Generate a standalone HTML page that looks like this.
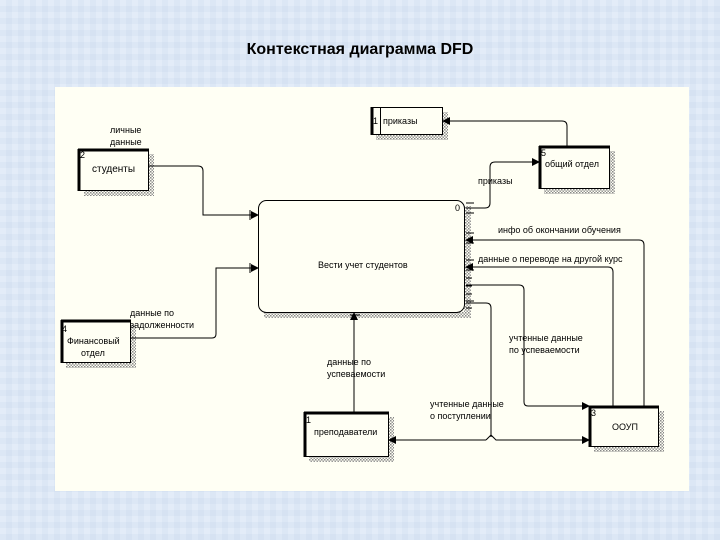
<!DOCTYPE html>
<html><head><meta charset="utf-8"><style>
body{margin:0;width:720px;height:540px;overflow:hidden;background:#dfe9f6;}
svg{display:block}
text{font-family:"Liberation Sans","DejaVu Sans",sans-serif;font-size:9px;fill:#000}
</style></head><body>
<svg width="720" height="540" viewBox="0 0 720 540" xmlns="http://www.w3.org/2000/svg">
<defs>
<pattern id="bg" width="12" height="12" patternUnits="userSpaceOnUse">
<rect width="12" height="12" fill="#dce7f5"/><rect x="0" y="0" width="6" height="6" fill="#e3ecf8"/><rect x="6" y="6" width="6" height="6" fill="#d6e2f2"/>
</pattern>
<pattern id="sh" width="3" height="3" patternUnits="userSpaceOnUse">
<rect width="3" height="3" fill="#fffff4"/><rect width="1.5" height="1.5" fill="#888"/><rect x="1.5" y="1.5" width="1.5" height="1.5" fill="#999"/>
</pattern>
<marker id="ar" markerWidth="8" markerHeight="8" refX="7" refY="4" orient="auto" markerUnits="userSpaceOnUse">
<path d="M0,0 L8,4 L0,8 z" fill="#000"/></marker>
</defs>
<rect width="720" height="540" fill="url(#bg)"/>
<text x="360" y="54" text-anchor="middle" style="font-size:16px;font-weight:bold">Контекстная диаграмма DFD</text>
<rect x="55" y="87" width="634" height="404" fill="#fffff4"/>

<!-- shadows -->
<g fill="url(#sh)">
<rect x="148" y="154" width="6" height="42"/><rect x="84" y="190" width="70" height="6"/>
<rect x="442" y="112" width="6" height="28"/><rect x="376" y="134" width="72" height="6"/>
<rect x="609" y="151" width="6" height="43"/><rect x="544" y="188" width="71" height="6"/>
<rect x="464" y="206" width="7" height="112"/><rect x="264" y="312" width="207" height="6"/>
<rect x="130" y="325" width="6" height="43"/><rect x="66" y="362" width="70" height="6"/>
<rect x="388" y="417" width="6" height="45"/><rect x="309" y="456" width="85" height="6"/>
<rect x="658" y="411" width="6" height="41"/><rect x="594" y="446" width="70" height="6"/>
</g>

<!-- boxes -->
<g fill="#fffff4" stroke="#000" stroke-width="1">
<rect x="78.5" y="149.5" width="70" height="41"/>
<rect x="371.5" y="107.5" width="71" height="27"/>
<rect x="539.5" y="146.5" width="70" height="42"/>
<rect x="258.5" y="200.5" width="206" height="112" rx="8"/>
<rect x="61.5" y="320.5" width="69" height="42"/>
<rect x="304.5" y="412.5" width="84" height="44"/>
<rect x="589.5" y="406.5" width="69" height="40"/>
</g>
<g stroke="#000" stroke-width="3">
<line x1="79" y1="149" x2="79" y2="191"/><line x1="78" y1="150" x2="149" y2="150"/>
<line x1="372" y1="107" x2="372" y2="135"/>
<line x1="540" y1="146" x2="540" y2="189"/><line x1="539" y1="147" x2="610" y2="147"/>
<line x1="62" y1="320" x2="62" y2="363"/><line x1="61" y1="321" x2="131" y2="321"/>
<line x1="305" y1="412" x2="305" y2="457"/><line x1="304" y1="413" x2="389" y2="413"/>
<line x1="590" y1="406" x2="590" y2="447"/><line x1="589" y1="407" x2="659" y2="407"/>
</g>
<line x1="380.5" y1="107" x2="380.5" y2="135" stroke="#000"/>
<!-- ticks on process right side -->
<g stroke="#000" stroke-width="1">
<path d="M466,203h8M466,213h8M466,233h8M466,243h8M466,260h8M466,270h8M466,278h6M466,286h6M466,294h6M466,301h8M466,308h6"/>
<path d="M250,210v10M250,263v10M350,315h10"/>
</g>

<!-- connectors -->
<g fill="none" stroke="#000" stroke-width="1">
<path d="M148,166 H198 Q203,166 203,171 V215 H258" marker-end="url(#ar)"/>
<path d="M130,338 H212 Q216,338 216,334 V268 H258" marker-end="url(#ar)"/>
<path d="M466,208 H485 Q490,208 490,203 V167 Q490,162 495,162 H539" marker-end="url(#ar)"/>
<path d="M567,146 V126 Q567,121 562,121 H443" marker-end="url(#ar)"/>
<path d="M644,406 V245 Q644,240 639,240 H466" marker-end="url(#ar)"/>
<path d="M613,406 V272 Q613,267 608,267 H466" marker-end="url(#ar)"/>
<path d="M466,285 H519 Q524,285 524,290 V402 Q524,406 528,406 H589" marker-end="url(#ar)"/>
<path d="M466,303 H486 Q491,303 491,308 V437"/>
<path d="M486,440 H389" marker-end="url(#ar)"/>
<path d="M486,440 L491,435 L496,440 H589" marker-end="url(#ar)"/>
<path d="M354,412 V313" marker-end="url(#ar)"/>
</g>

<!-- labels -->
<text x="373" y="124">1</text><text x="383" y="124">приказы</text>
<text x="110" y="133">личные</text><text x="110" y="145">данные</text>
<text x="80" y="158">2</text><text x="92" y="172" style="font-size:10px">студенты</text>
<text x="541" y="156">5</text><text x="545" y="167">общий отдел</text>
<text x="478" y="184">приказы</text>
<text x="455" y="211">0</text>
<text x="318" y="268">Вести учет студентов</text>
<text x="498" y="233">инфо об окончании обучения</text>
<text x="478" y="262">данные о переводе на другой курс</text>
<text x="130" y="316">данные по</text><text x="130" y="328">задолженности</text>
<text x="62" y="332">4</text>
<text x="67" y="344">Финансовый</text><text x="81" y="356">отдел</text>
<text x="509" y="341">учтенные данные</text><text x="509" y="353">по успеваемости</text>
<text x="327" y="365">данные по</text><text x="327" y="377">успеваемости</text>
<text x="430" y="407">учтенные данные</text><text x="430" y="419">о поступлении</text>
<text x="306" y="423">1</text><text x="314" y="435">преподаватели</text>
<text x="591" y="416">3</text><text x="612" y="430">ООУП</text>
</svg>
</body></html>
